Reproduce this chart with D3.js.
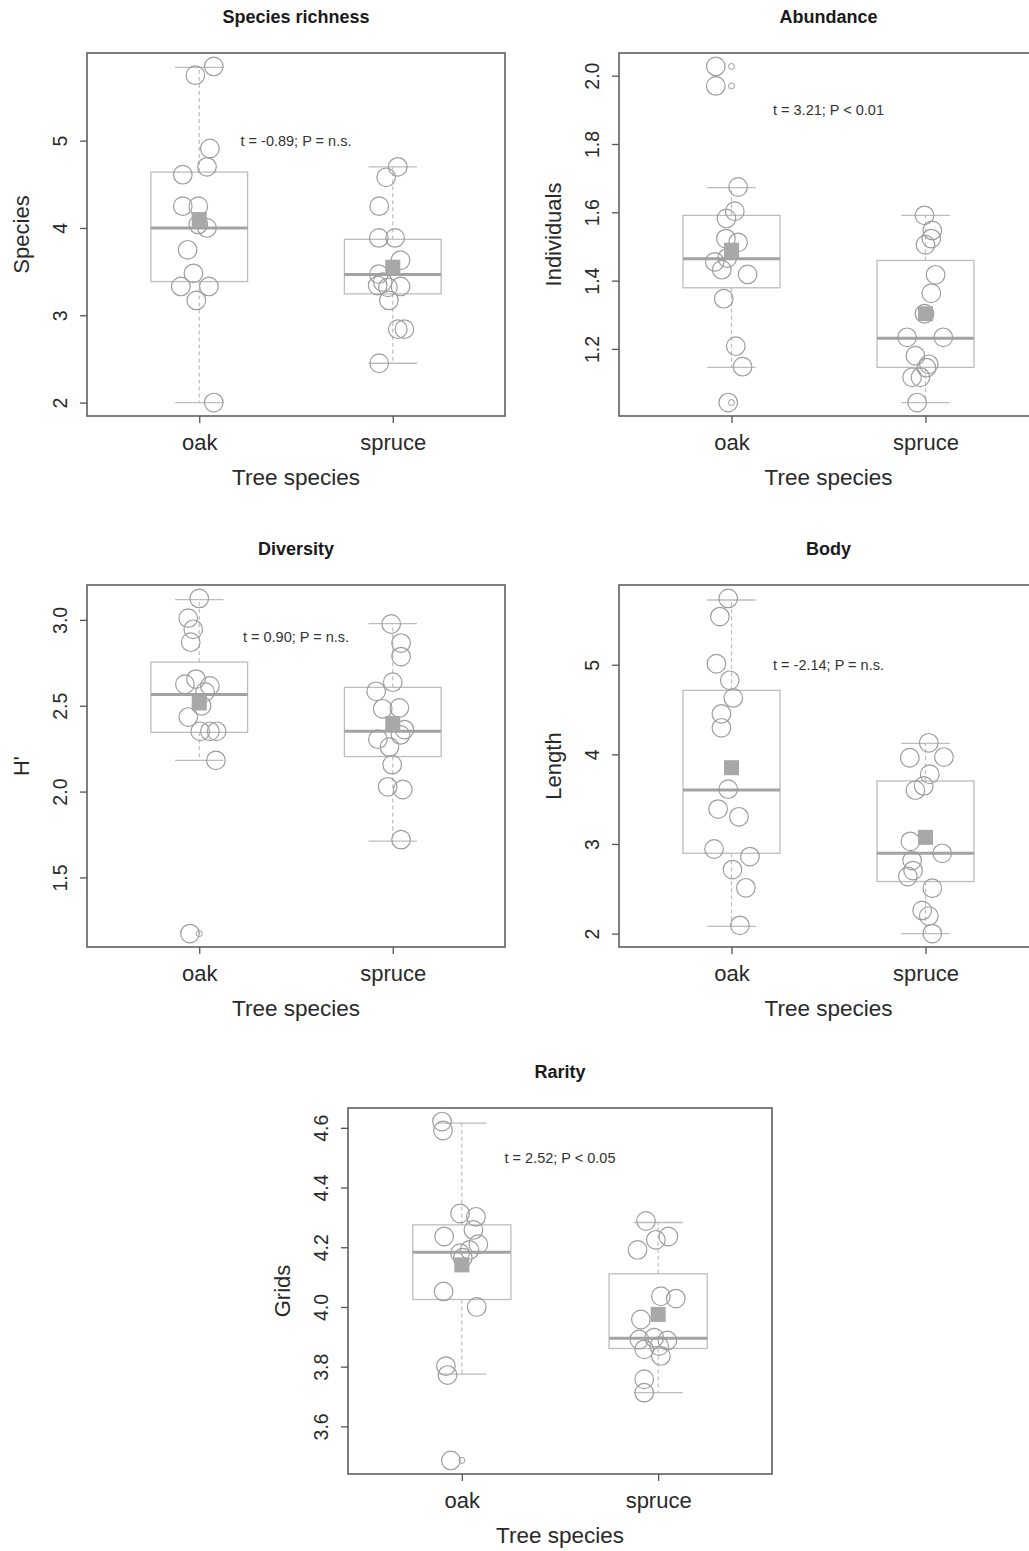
<!DOCTYPE html>
<html>
<head>
<meta charset="utf-8">
<script src="https://cdn.jsdelivr.net/npm/d3@7"></script>
<style>
  body { margin: 0; background: #fff; }
  svg { display: block; }
  text { font-family: "Liberation Sans", Arial, Helvetica, sans-serif; }
</style>
</head>
<body>
<svg id="fig" width="1029" height="1551"></svg>
<script>
// ---- data -------------------------------------------------------------
const categories = ["oak", "spruce"];
const titles = ["Species richness", "Abundance", "Diversity", "Body", "Rarity"];
const yLabels = ["Species", "Individuals", "H'", "Length", "Grids"];
const yTicks = [[2, 3, 4, 5], [1.2, 1.4, 1.6, 1.8, 2.0], [1.5, 2.0, 2.5, 3.0], [2, 3, 4, 5], [3.6, 3.8, 4.0, 4.2, 4.4, 4.6]];
const yTickFormats = ["d", ".1f", ".1f", "d", ".1f"];
const testLabels = ["t = -0.89; P = n.s.", "t = 3.21; P < 0.01", "t = 0.90; P = n.s.", "t = -2.14; P = n.s.", "t = 2.52; P < 0.05"];
const testLabelY = [5.0, 1.9, 2.9, 5.0, 4.5];

// Species richness: per-site values and the jitter applied on the x axis
const richnessOak = [5.85, 5.75, 4.91, 4.70, 4.61, 4.25, 4.25, 4.04, 4.00, 3.75, 3.48, 3.33, 3.33, 3.17, 2.00];
const richnessOakJitter = [0.075, -0.02, 0.055, 0.04, -0.085, -0.085, -0.005, -0.005, 0.04, -0.06, -0.03, -0.095, 0.05, -0.015, 0.075];
const richnessSpruce = [4.70, 4.58, 4.25, 3.886, 3.886, 3.63, 3.47, 3.38, 3.34, 3.33, 3.32, 3.17, 2.84, 2.84, 2.45];
const richnessSpruceJitter = [0.026, -0.034, -0.07, -0.072, 0.012, 0.04, -0.072, -0.052, -0.078, 0.04, -0.025, -0.02, 0.026, 0.06, -0.07];
const richnessBox = [[2.00, 3.386, 4.00, 4.64, 5.84], [2.45, 3.245, 3.466, 3.87, 4.70]]; // whisker, Q1, median, Q3, whisker
const richnessMean = [4.096, 3.55];
const richnessOutliers = [[], []];

// Abundance
const abundanceOak = [2.027, 1.970, 1.674, 1.603, 1.582, 1.523, 1.512, 1.466, 1.455, 1.432, 1.418, 1.347, 1.208, 1.148, 1.043];
const abundanceOakJitter = [-0.081, -0.081, 0.034, 0.017, -0.026, -0.029, 0.034, -0.022, -0.086, -0.05, 0.083, -0.04, 0.022, 0.057, -0.017];
const abundanceSpruce = [1.591, 1.547, 1.523, 1.505, 1.417, 1.363, 1.303, 1.234, 1.234, 1.180, 1.155, 1.145, 1.117, 1.117, 1.043];
const abundanceSpruceJitter = [-0.005, 0.035, 0.03, 0.0, 0.052, 0.03, -0.005, -0.095, 0.092, -0.052, 0.017, 0.005, -0.069, -0.026, -0.043];
const abundanceBox = [[1.146, 1.379, 1.464, 1.591, 1.672], [1.043, 1.146, 1.231, 1.459, 1.591]];
const abundanceMean = [1.489, 1.303];
const abundanceOutliers = [[2.027, 1.970, 1.043], []];

// Diversity (Shannon H')
const diversityOak = [3.125, 3.01, 2.945, 2.87, 2.655, 2.625, 2.615, 2.58, 2.50, 2.434, 2.351, 2.351, 2.351, 2.182, 1.173];
const diversityOakJitter = [0.0, -0.057, -0.031, -0.044, -0.017, -0.074, 0.055, 0.03, 0.012, -0.057, 0.005, 0.055, 0.09, 0.086, -0.048];
const diversitySpruce = [2.976, 2.865, 2.786, 2.637, 2.584, 2.482, 2.487, 2.361, 2.33, 2.305, 2.26, 2.157, 2.028, 2.012, 1.72];
const diversitySpruceJitter = [-0.008, 0.043, 0.043, 0.0, -0.086, -0.052, 0.034, 0.06, 0.04, -0.077, -0.017, -0.003, -0.026, 0.052, 0.043];
const diversityBox = [[2.182, 2.345, 2.566, 2.754, 3.118], [1.711, 2.204, 2.351, 2.607, 2.978]];
const diversityMean = [2.516, 2.396];
const diversityOutliers = [[1.173], []];

// Body length
const bodyOak = [5.74, 5.537, 5.011, 4.826, 4.63, 4.452, 4.296, 3.611, 3.389, 3.303, 2.944, 2.859, 2.714, 2.511, 2.092];
const bodyOakJitter = [-0.017, -0.06, -0.078, -0.009, 0.009, -0.052, -0.052, -0.017, -0.069, 0.038, -0.09, 0.095, 0.005, 0.074, 0.043];
const bodySpruce = [4.129, 3.962, 3.97, 3.778, 3.648, 3.6, 3.029, 2.896, 2.815, 2.703, 2.637, 2.507, 2.259, 2.196, 2.0];
const bodySpruceJitter = [0.017, -0.081, 0.095, 0.022, -0.009, -0.052, -0.078, 0.086, -0.069, -0.064, -0.091, 0.035, -0.017, 0.017, 0.035];
const bodyBox = [[2.081, 2.896, 3.603, 4.714, 5.722], [2.0, 2.581, 2.896, 3.703, 4.122]];
const bodyMean = [3.851, 3.074];
const bodyOutliers = [[], []];

// Rarity (occupied grids)
const rarityOak = [4.621, 4.591, 4.313, 4.302, 4.258, 4.236, 4.21, 4.191, 4.18, 4.165, 4.052, 4.0, 3.802, 3.772, 3.486];
const rarityOakJitter = [-0.101, -0.096, -0.009, 0.072, 0.059, -0.09, 0.084, 0.039, -0.009, 0.005, -0.093, 0.076, -0.081, -0.073, -0.056];
const raritySpruce = [4.288, 4.225, 4.236, 4.191, 4.036, 4.028, 3.958, 3.891, 3.897, 3.888, 3.858, 3.869, 3.836, 3.758, 3.713];
const raritySpruceJitter = [-0.062, -0.012, 0.052, -0.105, 0.014, 0.09, -0.088, -0.096, -0.02, 0.047, -0.071, 0.005, 0.014, -0.071, -0.071];
const rarityBox = [[3.775, 4.025, 4.183, 4.275, 4.616], [3.713, 3.861, 3.895, 4.111, 4.283]];
const rarityMean = [4.141, 3.975];
const rarityOutliers = [[3.486], []];

// ---- panel table --------------------------------------------------------
const panelValues = [
  [[richnessOak, richnessOakJitter], [richnessSpruce, richnessSpruceJitter]],
  [[abundanceOak, abundanceOakJitter], [abundanceSpruce, abundanceSpruceJitter]],
  [[diversityOak, diversityOakJitter], [diversitySpruce, diversitySpruceJitter]],
  [[bodyOak, bodyOakJitter], [bodySpruce, bodySpruceJitter]],
  [[rarityOak, rarityOakJitter], [raritySpruce, raritySpruceJitter]]
];
const panelBoxes = [richnessBox, abundanceBox, diversityBox, bodyBox, rarityBox];
const panelMeans = [richnessMean, abundanceMean, diversityMean, bodyMean, rarityMean];
const panelOutliers = [richnessOutliers, abundanceOutliers, diversityOutliers, bodyOutliers, rarityOutliers];

// plotting regions (left, top, right, bottom) in page pixels
const frames = [
  { l: 87, t: 53, r: 505, b: 416 },
  { l: 619, t: 53, r: 1038, b: 416 },
  { l: 87, t: 585, r: 505, b: 947 },
  { l: 619, t: 585, r: 1038, b: 947 },
  { l: 348, t: 1108, r: 772, b: 1474 }
];

const COL = {
  frame: "#555",
  text: "#2a2a2a",
  point: "#9d9d9d",
  box: "#bdbdbd",
  median: "#a3a3a3",
  mean: "#a8a8a8"
};

const svg = d3.select("#fig");

// R-style axis range: data range padded by 4% at each end
function padded(lo, hi) {
  const e = (hi - lo) * 0.04;
  return [lo - e, hi + e];
}

frames.forEach((f, i) => {
  const g = svg.append("g");
  const groups = panelValues[i];
  const boxes = panelBoxes[i];
  const allVals = groups.flatMap(gr => gr[0]).concat(boxes.flat());
  const [lo, hi] = d3.extent(allVals);

  const x = d3.scaleLinear().domain(padded(0.5, categories.length + 0.5)).range([f.l, f.r]);
  const y = d3.scaleLinear().domain(padded(lo, hi)).range([f.b, f.t]);

  const boxHalf = 0.25, capHalf = 0.125;

  // boxplots
  boxes.forEach((s, c) => {
    const cx = c + 1;
    const [wLo, q1, med, q3, wHi] = s;
    const bg = g.append("g");
    bg.append("line")
      .attr("x1", x(cx)).attr("x2", x(cx)).attr("y1", y(q3)).attr("y2", y(wHi))
      .attr("stroke", COL.box).attr("stroke-width", 1.2).attr("stroke-dasharray", "4,3");
    bg.append("line")
      .attr("x1", x(cx)).attr("x2", x(cx)).attr("y1", y(q1)).attr("y2", y(wLo))
      .attr("stroke", COL.box).attr("stroke-width", 1.2).attr("stroke-dasharray", "4,3");
    [wLo, wHi].forEach(w => {
      bg.append("line")
        .attr("x1", x(cx - capHalf)).attr("x2", x(cx + capHalf))
        .attr("y1", y(w)).attr("y2", y(w))
        .attr("stroke", COL.box).attr("stroke-width", 1.3);
    });
    bg.append("rect")
      .attr("x", x(cx - boxHalf)).attr("y", y(q3))
      .attr("width", x(cx + boxHalf) - x(cx - boxHalf)).attr("height", y(q1) - y(q3))
      .attr("fill", "none").attr("stroke", COL.box).attr("stroke-width", 1.3);
    bg.append("line")
      .attr("x1", x(cx - boxHalf)).attr("x2", x(cx + boxHalf))
      .attr("y1", y(med)).attr("y2", y(med))
      .attr("stroke", COL.median).attr("stroke-width", 3);
    panelOutliers[i][c].forEach(v => {
      bg.append("circle").attr("cx", x(cx)).attr("cy", y(v)).attr("r", 3)
        .attr("fill", "none").attr("stroke", COL.point).attr("stroke-width", 1);
    });
  });

  // jittered observations
  groups.forEach((gr, c) => {
    const [vals, jit] = gr;
    g.append("g").selectAll("circle").data(vals).join("circle")
      .attr("cx", (d, k) => x(c + 1 + jit[k]))
      .attr("cy", d => y(d))
      .attr("r", 9.3)
      .attr("fill", "none")
      .attr("stroke", COL.point)
      .attr("stroke-width", 1.2);
  });

  // group means
  const sq = 15;
  g.append("g").selectAll("rect").data(panelMeans[i]).join("rect")
    .attr("x", (d, c) => x(c + 1) - sq / 2)
    .attr("y", d => y(d) - sq / 2)
    .attr("width", sq).attr("height", sq)
    .attr("fill", COL.mean);

  // frame
  g.append("rect")
    .attr("x", f.l).attr("y", f.t).attr("width", f.r - f.l).attr("height", f.b - f.t)
    .attr("fill", "none").attr("stroke", COL.frame).attr("stroke-width", 1.5);

  // y axis
  const yAxis = d3.axisLeft(y).tickValues(yTicks[i]).tickSize(7)
    .tickFormat(d3.format(yTickFormats[i]));
  const ya = g.append("g").attr("transform", `translate(${f.l},0)`).call(yAxis);
  ya.select(".domain").remove();
  ya.selectAll(".tick line").attr("stroke", COL.frame).attr("stroke-width", 1.3);
  ya.selectAll(".tick text")
    .attr("x", null).attr("dy", null)
    .attr("transform", "translate(-20,0) rotate(-90)")
    .attr("text-anchor", "middle")
    .attr("fill", COL.text)
    .style("font-size", "19.5px");

  // x axis
  const xAxis = d3.axisBottom(x).tickValues([1, 2]).tickSize(7)
    .tickFormat(d => categories[d - 1]);
  const xa = g.append("g").attr("transform", `translate(0,${f.b})`).call(xAxis);
  xa.select(".domain").remove();
  xa.selectAll(".tick line").attr("stroke", COL.frame).attr("stroke-width", 1.3);
  xa.selectAll(".tick text")
    .attr("y", 34).attr("dy", null)
    .attr("fill", COL.text)
    .style("font-size", "22px");

  // labels
  g.append("text")
    .attr("x", (f.l + f.r) / 2).attr("y", f.b + 69)
    .attr("text-anchor", "middle").attr("fill", COL.text)
    .style("font-size", "22.5px")
    .text("Tree species");
  g.append("text")
    .attr("transform", `translate(${f.l - 58},${(f.t + f.b) / 2}) rotate(-90)`)
    .attr("text-anchor", "middle").attr("fill", COL.text)
    .style("font-size", "22px")
    .text(yLabels[i]);
  g.append("text")
    .attr("x", (f.l + f.r) / 2).attr("y", f.t - 30)
    .attr("text-anchor", "middle").attr("fill", "#1a1a1a")
    .style("font-size", "18px").style("font-weight", "bold")
    .text(titles[i]);

  // t-test annotation
  g.append("text")
    .attr("x", x(1.5)).attr("y", y(testLabelY[i])).attr("dy", "0.35em")
    .attr("text-anchor", "middle").attr("fill", "#333")
    .style("font-size", "14.5px")
    .text(testLabels[i]);
});
</script>
</body>
</html>
